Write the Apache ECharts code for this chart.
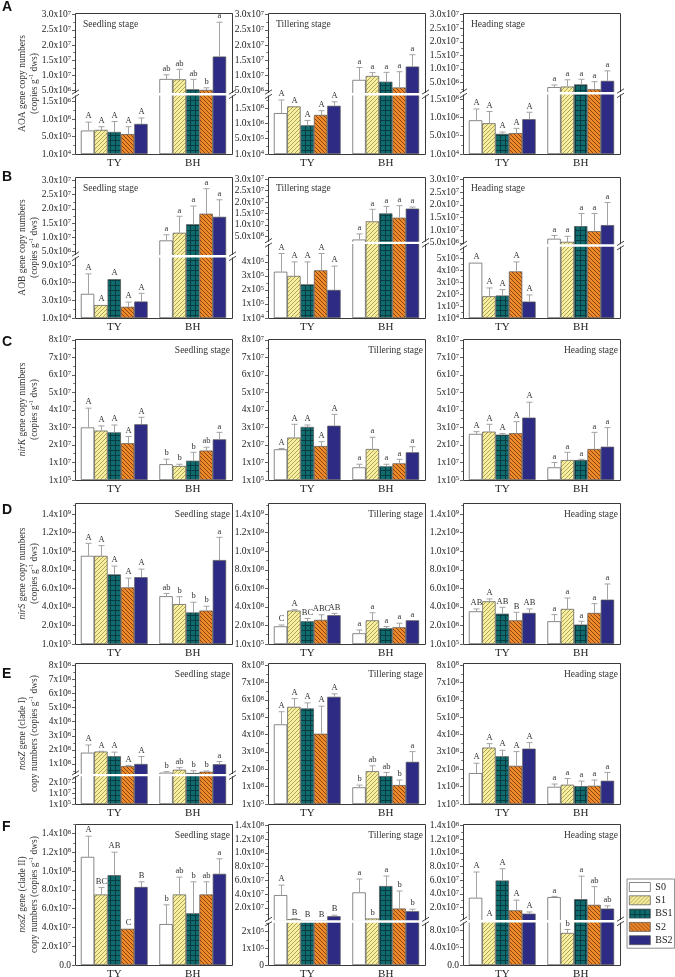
<!DOCTYPE html>
<html><head><meta charset="utf-8">
<script src="https://cdn.jsdelivr.net/npm/echarts@6.0.0/dist/echarts.min.js"></script>
<style>html,body{margin:0;padding:0;background:#fff;}#chart{width:675px;height:977px;}</style>
</head><body><div id="chart"></div>
<script>
// ================= DATA =================
const categories = ['TY', 'BH'];
const treatments = ['S0', 'S1', 'BS1', 'S2', 'BS2'];
const stages = ['Seedling stage', 'Tillering stage', 'Heading stage'];
const panelLetters = ['A', 'B', 'C', 'D', 'E', 'F'];

// ---- A: AOA ----  [[TY: S0,S1,BS1,S2,BS2],[BH: ...]]
const aoaSeedMean = [[6.7e5, 6.9e5, 6.3e5, 5.7e5, 8.6e5], [8.8e6, 8.7e6, 5.4e6, 5.2e6, 1.62e7]];
const aoaSeedErr = [[2.4e5, 0.9e5, 3.0e5, 2.1e5, 1.7e5], [1.4e6, 3.3e6, 3.3e6, 0.7e6, 1.13e7]];
const aoaSeedSig = [['A', 'A', 'A', 'A', 'A'], ['ab', 'ab', 'ab', 'b', 'a']];
const aoaTillMean = [[1.34e6, 1.56e6, 0.94e6, 1.28e6, 1.58e6], [8.5e6, 9.8e6, 7.9e6, 6.0e6, 1.29e7]];
const aoaTillErr = [[4.3e5, 0, 1.6e5, 1.4e5, 1.3e5], [4.1e6, 1.1e6, 3.1e6, 5.2e6, 3.9e6]];
const aoaTillSig = [['A', 'A', 'A', 'A', 'A'], ['a', 'a', 'a', 'a', 'a']];
const aoaHeadMean = [[0.92e6, 0.84e6, 0.55e6, 0.57e6, 0.95e6], [3.3e6, 3.5e6, 4.3e6, 2.5e6, 5.6e6]];
const aoaHeadErr = [[3.1e5, 3.2e5, 0.5e5, 1.3e5, 1.9e5], [0.8e6, 2.5e6, 1.9e6, 2.8e6, 3.7e6]];
const aoaHeadSig = [['A', 'A', 'A', 'A', 'A'], ['a', 'a', 'a', 'a', 'a']];

// ---- B: AOB ----
const aobSeedMean = [[4.1e5, 2.2e5, 6.6e5, 1.9e5, 2.8e5], [8.9e6, 1.16e7, 1.46e7, 1.83e7, 1.72e7]];
const aobSeedErr = [[3.4e5, 0, 0, 0.8e5, 1.4e5], [2.0e6, 5.8e6, 6.4e6, 8.8e6, 6.0e6]];
const aobSeedSig = [['A', 'A', 'A', 'A', 'A'], ['a', 'a', 'a', 'a', 'a']];
const aobTillMean = [[3.3e5, 3.0e5, 2.4e5, 3.4e5, 2.0e5], [3.5e6, 1.15e7, 1.5e7, 1.31e7, 1.71e7]];
const aobTillErr = [[1.3e5, 1.0e5, 1.6e5, 1.2e5, 1.7e5], [2.5e6, 5.3e6, 3.1e6, 5.3e6, 0.7e6]];
const aobTillSig = [['A', 'A', 'A', 'A', 'A'], ['a', 'a', 'a', 'a', 'a']];
const aobHeadMean = [[4.65e5, 1.83e5, 1.89e5, 3.92e5, 1.38e5], [6.6e6, 5.4e6, 1.16e7, 9.6e6, 1.2e7]];
const aobHeadErr = [[0, 0.7e5, 0.5e5, 0.8e5, 0.56e5], [1.3e6, 2.2e6, 5.0e6, 7.0e6, 8.9e6]];
const aobHeadSig = [['A', 'A', 'A', 'A', 'A'], ['a', 'a', 'a', 'a', 'a']];

// ---- C: nirK ----
const nirKSeedMean = [[3.0e7, 2.82e7, 2.72e7, 2.1e7, 3.18e7], [0.9e7, 0.8e7, 1.1e7, 1.68e7, 2.32e7]];
const nirKSeedErr = [[1.1e7, 0.27e7, 0.42e7, 0.38e7, 0.4e7], [0.29e7, 0.1e7, 0.48e7, 0.19e7, 0.4e7]];
const nirKSeedSig = [['A', 'A', 'A', 'A', 'A'], ['b', 'b', 'b', 'ab', 'a']];
const nirKTillMean = [[1.75e7, 2.42e7, 3.03e7, 1.94e7, 3.1e7], [0.72e7, 1.77e7, 0.78e7, 0.95e7, 1.58e7]];
const nirKTillErr = [[0.05e7, 0.76e7, 0.11e7, 0.25e7, 0.65e7], [0.18e7, 0.67e7, 0.12e7, 0.23e7, 0.32e7]];
const nirKTillSig = [['A', 'A', 'A', 'A', 'A'], ['a', 'a', 'a', 'a', 'a']];
const nirKHeadMean = [[2.63e7, 2.76e7, 2.59e7, 2.67e7, 3.56e7], [0.72e7, 1.14e7, 1.14e7, 1.77e7, 1.9e7]];
const nirKHeadErr = [[0.13e7, 0.42e7, 0.06e7, 0.66e7, 0.88e7], [0.28e7, 0.44e7, 0.04e7, 0.95e7, 1.09e7]];
const nirKHeadSig = [['A', 'A', 'A', 'A', 'A'], ['a', 'a', 'a', 'a', 'a']];

// ---- D: nirS ----
const nirSSeedMean = [[9.5e8, 9.5e8, 7.5e8, 6.1e8, 7.2e8], [5.15e8, 4.3e8, 3.4e8, 3.6e8, 9.05e8]];
const nirSSeedErr = [[1.35e8, 1.1e8, 0.9e8, 1.0e8, 0.87e8], [0.3e8, 0.8e8, 1.1e8, 0.47e8, 2.45e8]];
const nirSSeedSig = [['A', 'A', 'A', 'A', 'A'], ['ab', 'b', 'b', 'b', 'a']];
const nirSTillMean = [[1.9e8, 3.6e8, 2.45e8, 2.6e8, 3.1e8], [1.15e8, 2.55e8, 1.7e8, 1.8e8, 2.55e8]];
const nirSTillErr = [[0.15e8, 0.1e8, 0.3e8, 0.55e8, 0.2e8], [0.36e8, 0.82e8, 0.18e8, 0.44e8, 0]];
const nirSTillSig = [['C', 'A', 'BC', 'ABC', 'AB'], ['a', 'a', 'a', 'a', 'a']];
const nirSHeadMean = [[3.52e8, 4.6e8, 3.27e8, 2.55e8, 3.35e8], [2.45e8, 3.78e8, 2.09e8, 3.35e8, 4.78e8]];
const nirSHeadErr = [[0.26e8, 0.26e8, 0.69e8, 0.87e8, 0.43e8], [0.72e8, 1.18e8, 0.36e8, 1.0e8, 1.69e8]];
const nirSHeadSig = [['AB', 'A', 'AB', 'B', 'AB'], ['a', 'a', 'a', 'a', 'a']];

// ---- E: nosZ clade I ----
const nosZ1SeedMean = [[1.8e8, 1.88e8, 1.55e8, 0.85e8, 1.0e8], [0.38e8, 0.59e8, 0.36e8, 0.45e8, 0.98e8]];
const nosZ1SeedErr = [[0.55e8, 0.02e8, 0.29e8, 0.05e8, 0.53e8], [0.07e8, 0.15e8, 0.16e8, 0.05e8, 0.19e8]];
const nosZ1SeedSig = [['A', 'A', 'A', 'A', 'A'], ['b', 'ab', 'b', 'b', 'a']];
const nosZ1TillMean = [[4.59e8, 5.6e8, 5.51e8, 4.05e8, 6.18e8], [0.96e8, 1.89e8, 1.61e8, 1.09e8, 2.43e8]];
const nosZ1TillErr = [[0.73e8, 0.48e8, 0.32e8, 1.59e8, 0.17e8], [0.13e8, 0.31e8, 0.21e8, 0.29e8, 0.59e8]];
const nosZ1TillSig = [['A', 'A', 'A', 'A', 'A'], ['b', 'ab', 'ab', 'b', 'a']];
const nosZ1HeadMean = [[1.78e8, 3.25e8, 2.75e8, 2.2e8, 3.19e8], [0.99e8, 1.11e8, 1.03e8, 1.05e8, 1.34e8]];
const nosZ1HeadErr = [[0.57e8, 0.23e8, 0.35e8, 0.82e8, 0.35e8], [0.16e8, 0.36e8, 0.29e8, 0.33e8, 0.48e8]];
const nosZ1HeadSig = [['A', 'A', 'A', 'A', 'A'], ['a', 'a', 'a', 'a', 'a']];

// ---- F: nosZ clade II ----
const nosZ2SeedMean = [[1.15e8, 7.5e7, 9.55e7, 3.85e7, 8.3e7], [4.35e7, 7.5e7, 5.5e7, 7.5e7, 9.7e7]];
const nosZ2SeedErr = [[2.2e7, 0.75e7, 2.45e7, 0, 0.55e7], [2.05e7, 1.85e7, 3.35e7, 1.35e7, 1.6e7]];
const nosZ2SeedSig = [['A', 'BC', 'AB', 'C', 'B'], ['b', 'ab', 'b', 'ab', 'a']];
const nosZ2TillMean = [[3.85e7, 3.5e6, 1.5e6, 1.5e6, 7.8e6], [4.24e7, 4.4e6, 5.17e7, 1.9e7, 1.5e7]];
const nosZ2TillErr = [[1.45e7, 0.8e6, 0, 0, 1.5e6], [1.95e7, 0, 1.45e7, 2.55e7, 0.3e7]];
const nosZ2TillSig = [['A', 'B', 'B', 'B', 'B'], ['a', 'b', 'a', 'b', 'b']];
const nosZ2HeadMean = [[3.43e7, 1.5e6, 5.95e7, 1.6e7, 1.11e7], [3.53e7, 7.4e5, 3.23e7, 2.4e7, 1.85e7]];
const nosZ2HeadErr = [[3.76e7, 0, 1.72e7, 1.49e7, 0.25e7], [0.1e7, 0.8e5, 3.36e7, 2.66e7, 0.4e7]];
const nosZ2HeadSig = [['A', 'A', 'A', 'A', 'A'], ['a', 'b', 'a', 'ab', 'ab']];

// ---- tick values and labels ----
const aoaLowerTicks = [0, 5e5, 1e6, 1.5e6];
const aoaLowerLabels = ['1.0x10^4', '5.0x10^5', '1.0x10^6', '1.5x10^6'];
const upper3e7Ticks = [5e6, 1e7, 1.5e7, 2e7, 2.5e7, 3e7];
const upper3e7Labels = ['5.0x10^6', '1.0x10^7', '1.5x10^7', '2.0x10^7', '2.5x10^7', '3.0x10^7'];
const aobSeedLowerTicks = [0, 3e5, 6e5, 9e5];
const aobSeedLowerLabels = ['1.0x10^4', '3.0x10^5', '6.0x10^5', '9.0x10^5'];
const aobTillLowerTicks = [0, 1e5, 2e5, 3e5, 4e5];
const aobTillLowerLabels = ['1x10^4', '1x10^5', '2x10^5', '3x10^5', '4x10^5'];
const aobHeadLowerTicks = [0, 1e5, 2e5, 3e5, 4e5, 5e5];
const aobHeadLowerLabels = ['1x10^4', '1x10^5', '2x10^5', '3x10^5', '4x10^5', '5x10^5'];
const nirKTicks = [0, 1e7, 2e7, 3e7, 4e7, 5e7, 6e7, 7e7, 8e7];
const nirKLabels = ['1x10^5', '1x10^7', '2x10^7', '3x10^7', '4x10^7', '5x10^7', '6x10^7', '7x10^7', '8x10^7'];
const nirSTicks = [0, 2e8, 4e8, 6e8, 8e8, 1e9, 1.2e9, 1.4e9];
const nirSLabels = ['1.0x10^5', '2.0x10^8', '4.0x10^8', '6.0x10^8', '8.0x10^8', '1.0x10^9', '1.2x10^9', '1.4x10^9'];
const nosZ1Ticks = [0, 1e8, 2e8, 3e8, 4e8, 5e8, 6e8, 7e8, 8e8];
const nosZ1Labels = ['1x10^5', '1x10^8', '2x10^8', '3x10^8', '4x10^8', '5x10^8', '6x10^8', '7x10^8', '8x10^8'];
const nosZ1SeedLowerTicks = [0, 1e7, 2e7];
const nosZ1SeedLowerLabels = ['1x10^5', '1x10^7', '2x10^7'];
const nosZ1SeedUpperTicks = [1e8, 2e8, 3e8, 4e8, 5e8, 6e8, 7e8, 8e8];
const nosZ1SeedUpperLabels = ['1x10^8', '2x10^8', '3x10^8', '4x10^8', '5x10^8', '6x10^8', '7x10^8', '8x10^8'];
const nosZ2SeedTicks = [0, 2e7, 4e7, 6e7, 8e7, 1e8, 1.2e8, 1.4e8];
const nosZ2SeedLabels = ['0.0', '2.0x10^7', '4.0x10^7', '6.0x10^7', '8.0x10^7', '1.0x10^8', '1.2x10^8', '1.4x10^8'];
const nosZ2UpperTicks = [2e7, 4e7, 6e7, 8e7, 1e8, 1.2e8, 1.4e8];
const nosZ2UpperLabels = ['2.0x10^7', '4.0x10^7', '6.0x10^7', '8.0x10^7', '1.0x10^8', '1.2x10^8', '1.4x10^8'];
const nosZ2TillLowerTicks = [0, 1e5, 2e5];
const nosZ2TillLowerLabels = ['0', '1x10^5', '2x10^5'];
const nosZ2HeadLowerTicks = [0, 4e5, 8e5];
const nosZ2HeadLowerLabels = ['0.0', '4.0x10^5', '8.0x10^5'];

// ================= LAYOUT & STYLE =================
const LAYOUT = { colLeft: [75, 268, 463], colWidth: 157, rowTop: [13, 177, 339, 503, 663, 824], rowHeight: 141,
  letterY: [7, 177, 342, 510, 674, 827] };
const SERIF = "'Liberation Serif','Times New Roman',serif";
const GAP = 0.15;
const ERR_COLOR = '#a3a3a3';
const AXIS_COLOR = '#3a3a3a';

function seg(min, max, ticks, labels) { return { min, max, ticks, labels }; }

const rows = [
  { title: ['{t|AOA gene copy numbers}', '{t|(copies g}{s|-1}{t| dws)}'], titleAlign: 'left', panels: [
    { mean: aoaSeedMean, err: aoaSeedErr, sig: aoaSeedSig, frac: 0.424, lower: seg(0, 1.71e6, aoaLowerTicks, aoaLowerLabels), upper: seg(3.79e6, 3.055e7, upper3e7Ticks, upper3e7Labels) },
    { mean: aoaTillMean, err: aoaTillErr, sig: aoaTillSig, frac: 0.424, lower: seg(0, 1.96e6, aoaLowerTicks, aoaLowerLabels), upper: seg(3.79e6, 3.055e7, upper3e7Ticks, upper3e7Labels) },
    { mean: aoaHeadMean, err: aoaHeadErr, sig: aoaHeadSig, frac: 0.431, lower: seg(0, 1.66e6, aoaLowerTicks, aoaLowerLabels), upper: seg(1.06e6, 3.06e7, upper3e7Ticks, upper3e7Labels) } ] },
  { title: ['{t|AOB gene copy numbers}', '{t|(copies g}{s|-1}{t| dws)}'], titleAlign: 'left', panels: [
    { mean: aobSeedMean, err: aobSeedErr, sig: aobSeedSig, frac: 0.438, lower: seg(0, 1.05e6, aobSeedLowerTicks, aobSeedLowerLabels), upper: seg(3.36e6, 3.12e7, upper3e7Ticks, upper3e7Labels) },
    { mean: aobTillMean, err: aobTillErr, sig: aobTillSig, frac: 0.533, lower: seg(0, 5.36e5, aobTillLowerTicks, aobTillLowerLabels), upper: seg(2.06e6, 3.1e7, upper3e7Ticks, upper3e7Labels) },
    { mean: aobHeadMean, err: aobHeadErr, sig: aobHeadSig, frac: 0.514, lower: seg(0, 6.1e5, aobHeadLowerTicks, aobHeadLowerLabels), upper: seg(3.94e6, 3.1e7, upper3e7Ticks, upper3e7Labels) } ] },
  { title: ['{i|nirK}{t| gene copy numbers}', '{t|(copies g}{s|-1}{t| dws)}'], titleAlign: 'right', panels: [
    { mean: nirKSeedMean, err: nirKSeedErr, sig: nirKSeedSig, single: seg(0, 8.05e7, nirKTicks, nirKLabels) },
    { mean: nirKTillMean, err: nirKTillErr, sig: nirKTillSig, single: seg(0, 8.05e7, nirKTicks, nirKLabels) },
    { mean: nirKHeadMean, err: nirKHeadErr, sig: nirKHeadSig, single: seg(0, 8.05e7, nirKTicks, nirKLabels) } ] },
  { title: ['{i|nirS}{t| gene copy numbers}', '{t|(copies g}{s|-1}{t| dws)}'], titleAlign: 'right', panels: [
    { mean: nirSSeedMean, err: nirSSeedErr, sig: nirSSeedSig, single: seg(0, 1.52e9, nirSTicks, nirSLabels) },
    { mean: nirSTillMean, err: nirSTillErr, sig: nirSTillSig, single: seg(0, 1.52e9, nirSTicks, nirSLabels) },
    { mean: nirSHeadMean, err: nirSHeadErr, sig: nirSHeadSig, single: seg(0, 1.52e9, nirSTicks, nirSLabels) } ] },
  { title: ['{i|nosZ}{t| gene (clade I)}', '{t|copy numbers (copies g}{s|-1}{t| dws)}'], titleAlign: 'right', panels: [
    { mean: nosZ1SeedMean, err: nosZ1SeedErr, sig: nosZ1SeedSig, frac: 0.205, lower: seg(0, 2.7e7, nosZ1SeedLowerTicks, nosZ1SeedLowerLabels), upper: seg(2.1e7, 8.17e8, nosZ1SeedUpperTicks, nosZ1SeedUpperLabels) },
    { mean: nosZ1TillMean, err: nosZ1TillErr, sig: nosZ1TillSig, single: seg(0, 8.13e8, nosZ1Ticks, nosZ1Labels) },
    { mean: nosZ1HeadMean, err: nosZ1HeadErr, sig: nosZ1HeadSig, single: seg(0, 8.13e8, nosZ1Ticks, nosZ1Labels) } ] },
  { title: ['{i|nosZ}{t| gene (clade II)}', '{t|copy numbers (copies g}{s|-1}{t| dws)}'], titleAlign: 'right', panels: [
    { mean: nosZ2SeedMean, err: nosZ2SeedErr, sig: nosZ2SeedSig, single: seg(0, 1.5e8, nosZ2SeedTicks, nosZ2SeedLabels) },
    { mean: nosZ2TillMean, err: nosZ2TillErr, sig: nosZ2TillSig, frac: 0.308, lower: seg(0, 2.6e5, nosZ2TillLowerTicks, nosZ2TillLowerLabels), upper: seg(0, 1.42e8, nosZ2UpperTicks, nosZ2UpperLabels) },
    { mean: nosZ2HeadMean, err: nosZ2HeadErr, sig: nosZ2HeadSig, frac: 0.31, lower: seg(0, 1.01e6, nosZ2HeadLowerTicks, nosZ2HeadLowerLabels), upper: seg(0, 1.42e8, nosZ2UpperTicks, nosZ2UpperLabels) } ] }
];

// ---------- patterns ----------
function makePattern(kind) {
  const s = kind === 'grid' ? 5 : 4;
  const cv = document.createElement('canvas');
  cv.width = s; cv.height = s;
  const ctx = cv.getContext('2d');
  if (kind === 'fwd') {
    ctx.fillStyle = '#f7ee9f'; ctx.fillRect(0, 0, s, s);
    ctx.strokeStyle = '#a69c52'; ctx.lineWidth = 0.9;
    ctx.beginPath();
    ctx.moveTo(0, s); ctx.lineTo(s, 0);
    ctx.moveTo(-1, 1); ctx.lineTo(1, -1);
    ctx.moveTo(s - 1, s + 1); ctx.lineTo(s + 1, s - 1);
    ctx.stroke();
  } else if (kind === 'back') {
    ctx.fillStyle = '#ef8a2b'; ctx.fillRect(0, 0, s, s);
    ctx.strokeStyle = '#7d3c0c'; ctx.lineWidth = 0.9;
    ctx.beginPath();
    ctx.moveTo(0, 0); ctx.lineTo(s, s);
    ctx.moveTo(-1, s - 1); ctx.lineTo(1, s + 1);
    ctx.moveTo(s - 1, -1); ctx.lineTo(s + 1, 1);
    ctx.stroke();
  } else {
    ctx.fillStyle = '#0f6b6e'; ctx.fillRect(0, 0, s, s);
    ctx.fillStyle = '#083c40';
    ctx.fillRect(0, 0, s, 1); ctx.fillRect(0, 0, 1, s);
  }
  return { image: cv, repeat: 'repeat' };
}
const fills = ['#ffffff', makePattern('fwd'), makePattern('grid'), makePattern('back'), '#2e2b85'];

// ---------- helpers ----------
const tickRich = {
  m: { fontFamily: SERIF, fontSize: 9.5, color: '#222', lineHeight: 10 },
  s: { fontFamily: SERIF, fontSize: 6.5, color: '#222', lineHeight: 6, verticalAlign: 'top' }
};
function richLabel(str) {
  const p = str.split('^');
  return p.length > 1 ? '{m|' + p[0] + '}{s|' + p[1] + '}' : '{m|' + p[0] + '}';
}
function minorTicks(sg) {
  const t = sg.ticks, out = [];
  for (let i = 0; i < t.length - 1; i++) out.push((t[i] + t[i + 1]) / 2);
  const step = t.length > 1 ? t[1] - t[0] : 0;
  if (step > 0) {
    const last = t[t.length - 1] + step / 2;
    if (last <= sg.max) out.push(last);
    const first = t[0] - step / 2;
    if (first >= sg.min) out.push(first);
  }
  return out;
}

const grids = [], xAxes = [], yAxes = [], series = [], graphics = [];

// kind: 'err' draws error bars, 'sig' draws letters. floor/cut: which part of the value range this segment owns
function annoSeries(kind, xi, yi, panel, sg, floor, cut) {
  const data = [];
  for (let c = 0; c < 2; c++) for (let t = 0; t < 5; t++) data.push([c, panel.mean[c][t], panel.err[c][t], t]);
  return {
    type: 'custom', xAxisIndex: xi, yAxisIndex: yi, clip: false, silent: true, z: kind === 'err' ? 4 : 70,
    encode: { x: 0, y: 1 }, data: data,
    renderItem: function (params, api) {
      const c = api.value(0), v = api.value(1), e = api.value(2), t = api.value(3);
      const band = api.size([1, 0])[0];
      const gw = band * (1 - GAP), bw = gw / 5;
      const cx = api.coord([c, sg.min])[0];
      const x = Math.round(cx - gw / 2 + (t + 0.5) * bw) + 0.5;
      const top = v + e;
      const kids = [];
      const owns = top >= sg.min && top <= sg.max && top > floor && top <= cut;
      if (kind === 'err') {
        if (e > 0) {
          const lo = Math.max(v, sg.min, floor), hi = Math.min(top, sg.max);
          if (hi > lo) kids.push({ type: 'line', shape: { x1: x, y1: api.coord([c, lo])[1], x2: x, y2: api.coord([c, hi])[1] }, style: { stroke: ERR_COLOR, lineWidth: 1 } });
          if (owns) {
            const yt = api.coord([c, top])[1];
            kids.push({ type: 'line', shape: { x1: x - 3, y1: yt, x2: x + 3, y2: yt }, style: { stroke: ERR_COLOR, lineWidth: 1 } });
          }
        }
      } else if (owns) {
        const yt = api.coord([c, top])[1];
        kids.push({ type: 'text', x: x, y: yt - 1.5, style: { text: panel.sig[c][t], fill: '#333', textFill: '#333', font: '8.5px ' + SERIF, align: 'center', textAlign: 'center', verticalAlign: 'bottom', textVerticalAlign: 'bottom' } });
      }
      return { type: 'group', children: kids };
    }
  };
}

function addSegment(panel, sg, box, showX, floor, cut) {
  grids.push({ left: box.x, top: box.y, width: box.w, height: box.h, containLabel: false, outerBoundsMode: 'none' });
  const gi = grids.length - 1;
  xAxes.push({ type: 'category', gridIndex: gi, data: categories, show: showX,
    axisLine: { show: false }, axisTick: { show: false },
    axisLabel: { show: showX, interval: 0, margin: 4, fontFamily: SERIF, fontSize: 11, color: '#222' } });
  const xi = xAxes.length - 1;
  yAxes.push({ type: 'value', gridIndex: gi, position: 'left', min: sg.min, max: sg.max,
    axisLine: { show: false }, splitLine: { show: false },
    axisTick: { show: true, inside: false, length: 3, customValues: sg.ticks, lineStyle: { color: AXIS_COLOR, width: 0.8 } },
    axisLabel: { show: true, customValues: sg.ticks, margin: 4, rich: tickRich, hideOverlap: false, showMinLabel: true, showMaxLabel: true,
      formatter: function (v) { const i = sg.ticks.indexOf(v); return i >= 0 ? richLabel(sg.labels[i]) : ''; } } });
  const yi = yAxes.length - 1;
  yAxes.push({ type: 'value', gridIndex: gi, position: 'left', min: sg.min, max: sg.max,
    axisLine: { show: false }, splitLine: { show: false }, axisLabel: { show: false },
    axisTick: { show: true, inside: false, length: 1.8, customValues: minorTicks(sg), lineStyle: { color: AXIS_COLOR, width: 0.7 } } });
  for (let t = 0; t < 5; t++) {
    series.push({ type: 'bar', name: treatments[t], xAxisIndex: xi, yAxisIndex: yi, clip: true,
      barGap: '0%', barCategoryGap: (GAP * 100) + '%', silent: true,
      itemStyle: { color: fills[t], borderColor: '#555', borderWidth: 0.7 },
      data: [panel.mean[0][t], panel.mean[1][t]] });
  }
  series.push(annoSeries('err', xi, yi, panel, sg, floor, cut));
  series.push(annoSeries('sig', xi, yi, panel, sg, floor, cut));
}

rows.forEach(function (row, r) {
  const T = LAYOUT.rowTop[r], H = LAYOUT.rowHeight;
  graphics.push({ type: 'text', x: 2, y: LAYOUT.letterY[r], z: 100,
    style: { text: panelLetters[r], font: 'bold 14px "Liberation Sans", Arial, sans-serif', fill: '#111', textFill: '#111', verticalAlign: 'middle', textVerticalAlign: 'middle' } });
  graphics.push({ type: 'text', x: 28, y: T + H / 2, rotation: Math.PI / 2, z: 100,
    style: { text: row.title.join('\n'), align: 'center', textAlign: 'center', verticalAlign: 'middle', textVerticalAlign: 'middle', fill: '#333', textFill: '#333',
      rich: { t: { fontFamily: SERIF, fontSize: 9.5, lineHeight: 12, fill: '#333', textFill: '#333' },
              i: { fontFamily: SERIF, fontSize: 9.5, fontStyle: 'italic', lineHeight: 12, fill: '#333', textFill: '#333' },
              s: { fontFamily: SERIF, fontSize: 6.5, lineHeight: 7, verticalAlign: 'top', fill: '#333', textFill: '#333' } } } });
  row.panels.forEach(function (panel, c) {
    const L = LAYOUT.colLeft[c], W = LAYOUT.colWidth;
    if (panel.single) {
      addSegment(panel, panel.single, { x: L, y: T, w: W, h: H }, true, -Infinity, Infinity);
    } else {
      const hLow = H * panel.frac;
      const bY = T + H - hLow;
      addSegment(panel, panel.lower, { x: L, y: bY, w: W, h: hLow }, true, -Infinity, panel.lower.max);
      addSegment(panel, panel.upper, { x: L, y: T, w: W, h: H - hLow }, false, panel.lower.max, Infinity);
      graphics.push({ type: 'rect', z: 60, shape: { x: L - 2, y: bY - 1.2, width: W + 4, height: 2.4 }, style: { fill: '#fff', stroke: null } });
      [L + 0.5, L + W + 0.5].forEach(function (X) {
        [-2.2, 2.2].forEach(function (d) {
          graphics.push({ type: 'line', z: 61, shape: { x1: X - 3.5, y1: bY + d + 2.2, x2: X + 3.5, y2: bY + d - 2.2 }, style: { stroke: '#333', lineWidth: 0.9 } });
        });
      });
    }
    graphics.push({ type: 'rect', z: 50, shape: { x: L + 0.5, y: T + 0.5, width: W, height: H }, style: { fill: null, stroke: AXIS_COLOR, lineWidth: 1 } });
    const right = row.titleAlign === 'right';
    graphics.push({ type: 'text', z: 100, x: right ? L + W - 2 : L + 8, y: T + 11,
      style: { text: stages[c], font: '9.5px ' + SERIF, fill: '#333', textFill: '#333', align: right ? 'right' : 'left', textAlign: right ? 'right' : 'left', verticalAlign: 'middle', textVerticalAlign: 'middle' } });
  });
});

const chart = echarts.init(document.getElementById('chart'), null, { renderer: 'canvas' });
chart.setOption({
  animation: false,
  backgroundColor: '#fff',
  textStyle: { fontFamily: SERIF },
  grid: grids, xAxis: xAxes, yAxis: yAxes, series: series,
  legend: { data: treatments, orient: 'vertical', left: 627, top: 879, itemWidth: 21, itemHeight: 9, itemGap: 3.3,
    icon: 'rect', selectedMode: false, borderColor: '#8a8a8a', borderWidth: 1, padding: [3, 2, 3, 2],
    itemStyle: { borderColor: '#555', borderWidth: 0.7 },
    textStyle: { fontFamily: SERIF, fontSize: 10, color: '#222' } },
  graphic: { elements: graphics }
});
</script>
</body></html>
